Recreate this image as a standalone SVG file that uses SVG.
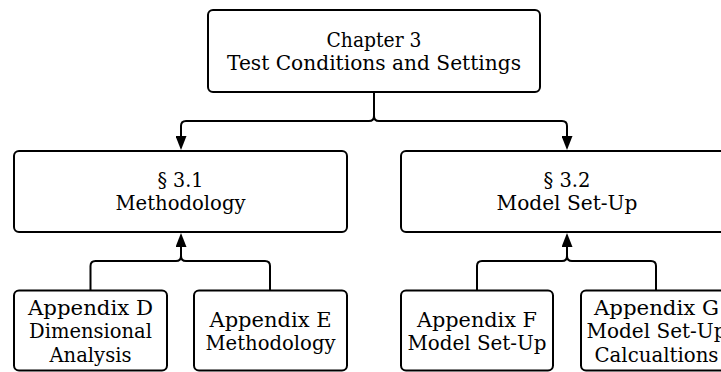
<svg xmlns="http://www.w3.org/2000/svg" width="721" height="372" viewBox="0 0 721 372">
<style>
.box{fill:#ffffff;stroke:#000000;stroke-width:2}
.c{fill:none;stroke:#000000;stroke-width:2}
</style>
<defs>
<marker id="ah" markerUnits="userSpaceOnUse" markerWidth="14" markerHeight="11" refX="0" refY="5.5" orient="auto" viewBox="0 0 14 11">
<path d="M0,0 L14,5.5 L0,11 z" fill="#000000"/>
</marker>
</defs>
<rect width="721" height="372" fill="#ffffff"/>
<g id="connectors">
<path class="c" d="M374,92 V116 Q374,121 369,121 H186 Q181,121 181,126 V136" marker-end="url(#ah)"/>
<path class="c" d="M374,116 Q374,121 379,121 H562 Q567,121 567,126 V136" marker-end="url(#ah)"/>
<path class="c" d="M90.5,290 V266 Q90.5,261 95.5,261 H176 Q181,261 181,256 V247" marker-end="url(#ah)"/>
<path class="c" d="M270,290 V266 Q270,261 265,261 H186 Q181,261 181,256"/>
<path class="c" d="M477,290 V266 Q477,261 482,261 H562 Q567,261 567,256 V247" marker-end="url(#ah)"/>
<path class="c" d="M656,290 V266 Q656,261 651,261 H572 Q567,261 567,256"/>
</g>
<g font-family="DejaVu Serif, Liberation Serif, serif" font-size="20" text-anchor="middle" fill="#000000">
<g id="chapter3">
<rect class="box" x="208" y="10" width="332" height="82" rx="5"/>
<text x="374" y="47" textLength="95" lengthAdjust="spacingAndGlyphs">Chapter 3</text>
<text x="374" y="70" textLength="294" lengthAdjust="spacingAndGlyphs">Test Conditions and Settings</text>
</g>
<g id="sec31">
<rect class="box" x="14" y="151" width="333" height="81" rx="5"/>
<text x="180.5" y="187" textLength="46" lengthAdjust="spacingAndGlyphs">§ 3.1</text>
<text x="180.5" y="210" textLength="130" lengthAdjust="spacingAndGlyphs">Methodology</text>
</g>
<g id="sec32">
<rect class="box" x="401" y="151" width="333" height="81" rx="5"/>
<text x="567" y="187" textLength="47" lengthAdjust="spacingAndGlyphs">§ 3.2</text>
<text x="567" y="210" textLength="141" lengthAdjust="spacingAndGlyphs">Model Set-Up</text>
</g>
<g id="appD">
<rect class="box" x="14" y="290.5" width="153" height="80" rx="5"/>
<text x="90.5" y="315" textLength="125" lengthAdjust="spacingAndGlyphs">Appendix D</text>
<text x="90.5" y="338" textLength="123" lengthAdjust="spacingAndGlyphs">Dimensional</text>
<text x="90.5" y="362" textLength="82" lengthAdjust="spacingAndGlyphs">Analysis</text>
</g>
<g id="appE">
<rect class="box" x="194" y="290.5" width="153" height="80" rx="5"/>
<text x="270.5" y="327" textLength="122" lengthAdjust="spacingAndGlyphs">Appendix E</text>
<text x="270.5" y="350" textLength="130" lengthAdjust="spacingAndGlyphs">Methodology</text>
</g>
<g id="appF">
<rect class="box" x="401" y="290.5" width="152" height="80" rx="5"/>
<text x="477" y="327" textLength="120" lengthAdjust="spacingAndGlyphs">Appendix F</text>
<text x="477" y="350" textLength="139" lengthAdjust="spacingAndGlyphs">Model Set-Up</text>
</g>
<g id="appG">
<rect class="box" x="581" y="290.5" width="153" height="80" rx="5"/>
<text x="656.5" y="315" textLength="125" lengthAdjust="spacingAndGlyphs">Appendix G</text>
<text x="656.5" y="338" textLength="140" lengthAdjust="spacingAndGlyphs">Model Set-Up</text>
<text x="656.5" y="362" textLength="124" lengthAdjust="spacingAndGlyphs">Calcualtions</text>
</g>
</g>
</svg>
